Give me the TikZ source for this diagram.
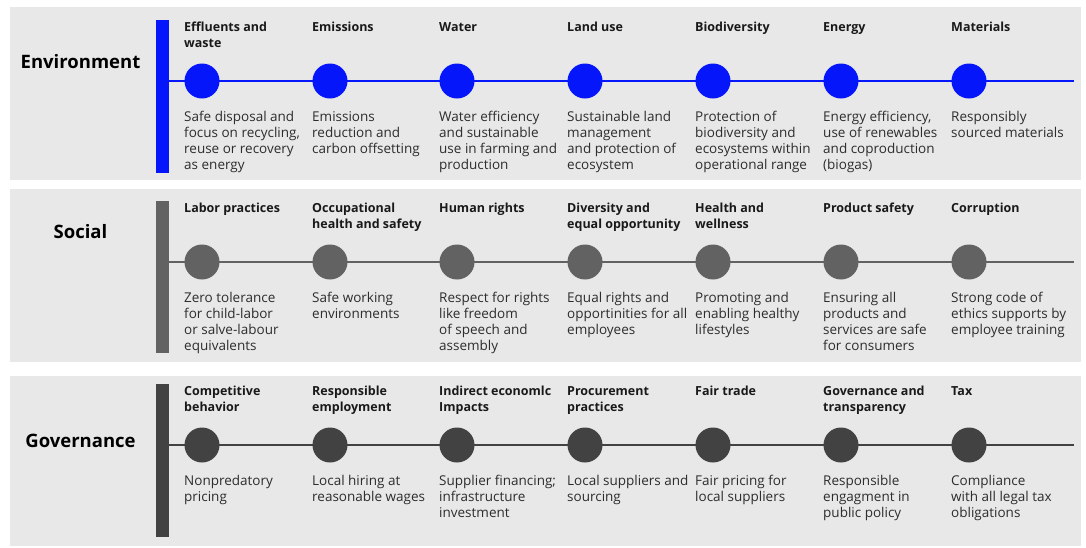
\documentclass[tikz,border=0pt]{standalone}
\usepackage{fontspec}
\setmainfont{Open Sans}
\definecolor{envcol}{RGB}{5,22,250}
\definecolor{soccol}{RGB}{98,98,98}
\definecolor{govcol}{RGB}{66,66,66}
\definecolor{panelbg}{RGB}{232,232,232}
\definecolor{ttlcol}{RGB}{25,25,25}
\definecolor{desccol}{RGB}{45,45,45}
\tikzset{
  panel/.style={fill=panelbg, draw=none},
  bar/.style={fill=#1, draw=none, inner sep=0, minimum width=13pt, anchor=north west},
  dot/.style={circle, fill=#1, draw=none, inner sep=0, minimum size=35pt},
  ttl/.style={anchor=north west, inner sep=0, align=left, text=ttlcol, font=\fontsize{12.5}{16}\selectfont\bfseries},
  desc/.style={anchor=north west, inner sep=0, align=left, text=desccol, font=\fontsize{13.5}{16}\selectfont},
  head/.style={anchor=base, inner sep=0, text=black, font=\fontsize{18.5}{22}\selectfont\bfseries},
  tl/.style={draw=#1, line width=1.4pt}
}
\newcommand\esgcol[6]{%
  \node[dot=#1col] (#1c#2) at (#3,#4) {};
  \node[ttl] (#1t#2) at (#3-18,#4-50-11.2) {\strut #5};
  \node[desc] (#1d#2) at (#3-18,#4+40-11.2) {\strut #6};
}
\begin{document}
\begin{tikzpicture}[x=1pt,y=-1pt]
\path[use as bounding box] (0,0) rectangle (1086,547);
% panels
\node[panel, inner sep=0, anchor=north west, minimum width=1071pt, minimum height=173pt] (penv) at (10,7) {};
\node[panel, inner sep=0, anchor=north west, minimum width=1071pt, minimum height=173pt] (psoc) at (10,189) {};
\node[panel, inner sep=0, anchor=north west, minimum width=1071pt, minimum height=170pt] (pgov) at (10,376) {};
% bars
\node[bar=envcol, minimum height=153pt] (benv) at (156,20) {};
\node[bar=soccol, minimum height=152pt] (bsoc) at (156,201) {};
\node[bar=govcol, minimum height=153pt] (bgov) at (156,384) {};
% headings
\node[head] (henv) at (80.5,68) {Environment};
\node[head] (hsoc) at (80.5,238) {Social};
\node[head] (hgov) at (80.5,447) {Governance};
% line ends
\coordinate (eenv) at (1074,81);
\coordinate (esoc) at (1074,262);
\coordinate (egov) at (1074,445);
\draw[tl=envcol] (benv.east |- eenv) -- (eenv);
\draw[tl=soccol] (bsoc.east |- esoc) -- (esoc);
\draw[tl=govcol] (bgov.east |- egov) -- (egov);
% Environment
\esgcol{env}{1}{202}{81}{Effluents and\\waste}{Safe disposal and\\focus on recycling,\\reuse or recovery\\as energy}
\esgcol{env}{2}{330}{81}{Emissions}{Emissions\\reduction and\\carbon offsetting}
\esgcol{env}{3}{457}{81}{Water}{Water efficiency\\and sustainable\\use in farming and\\production}
\esgcol{env}{4}{585}{81}{Land use}{Sustainable land\\management\\and protection of\\ecosystem}
\esgcol{env}{5}{713}{81}{Biodiversity}{Protection of\\biodiversity and\\ecosystems within\\operational range}
\esgcol{env}{6}{841}{81}{Energy}{Energy efficiency,\\use of renewables\\and coproduction\\(biogas)}
\esgcol{env}{7}{969}{81}{Materials}{Responsibly\\sourced materials}
% Social
\esgcol{soc}{1}{202}{262}{Labor practices}{Zero tolerance\\for child-labor\\or salve-labour\\equivalents}
\esgcol{soc}{2}{330}{262}{Occupational\\health and safety}{Safe working\\environments}
\esgcol{soc}{3}{457}{262}{Human rights}{Respect for rights\\like freedom\\of speech and\\assembly}
\esgcol{soc}{4}{585}{262}{Diversity and\\equal opportunity}{Equal rights and\\opportinities for all\\employees}
\esgcol{soc}{5}{713}{262}{Health and\\wellness}{Promoting and\\enabling healthy\\lifestyles}
\esgcol{soc}{6}{841}{262}{Product safety}{Ensuring all\\products and\\services are safe\\for consumers}
\esgcol{soc}{7}{969}{262}{Corruption}{Strong code of\\ethics supports by\\employee training}
% Governance
\esgcol{gov}{1}{202}{445}{Competitive\\behavior}{Nonpredatory\\pricing}
\esgcol{gov}{2}{330}{445}{Responsible\\employment}{Local hiring at\\reasonable wages}
\esgcol{gov}{3}{457}{445}{Indirect economlc\\Impacts}{Supplier financing;\\infrastructure\\investment}
\esgcol{gov}{4}{585}{445}{Procurement\\practices}{Local suppliers and\\sourcing}
\esgcol{gov}{5}{713}{445}{Fair trade}{Fair pricing for\\local suppliers}
\esgcol{gov}{6}{841}{445}{Governance and\\transparency}{Responsible\\engagment in\\public policy}
\esgcol{gov}{7}{969}{445}{Tax}{Compliance\\with all legal tax\\obligations}
\end{tikzpicture}
\end{document}
